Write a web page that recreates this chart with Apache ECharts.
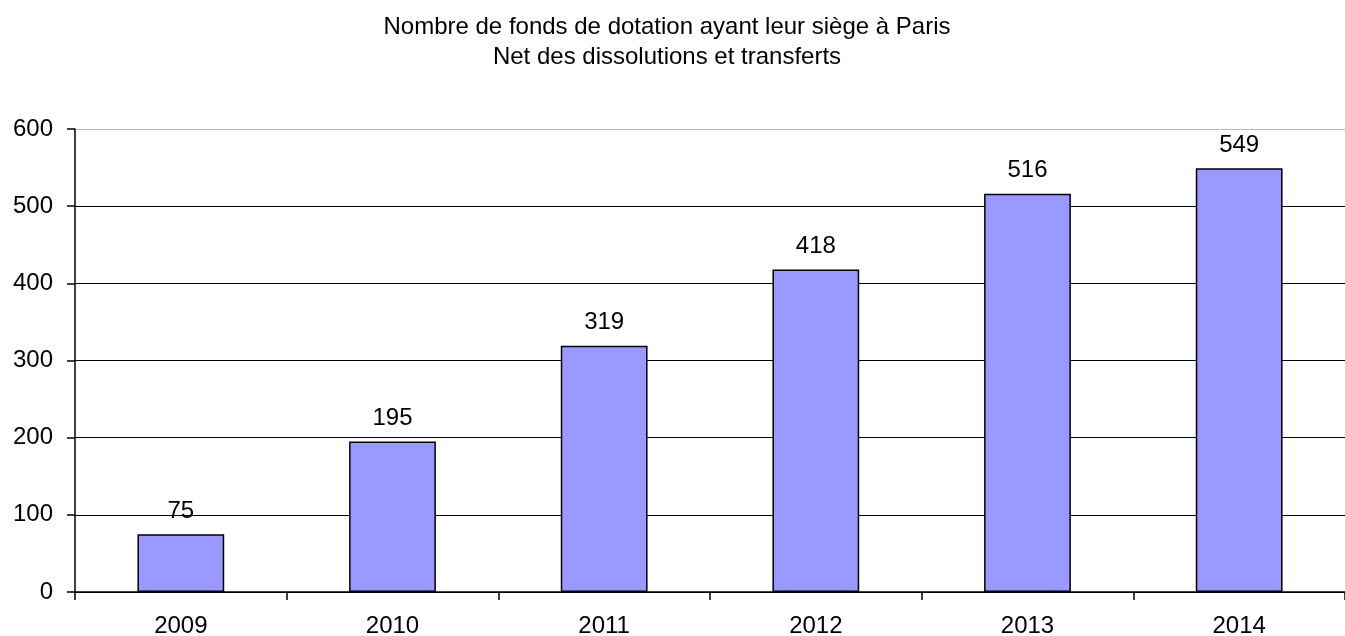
<!DOCTYPE html>
<html>
<head>
<meta charset="utf-8">
<script src="https://cdn.jsdelivr.net/npm/echarts@6/dist/echarts.min.js"></script>
<style>html,body{margin:0;padding:0;background:#fff}#c{width:1345px;height:636px}</style>
</head>
<body>
<div id="c"></div>
<script>
const categories = ['2009', '2010', '2011', '2012', '2013', '2014'];
const values = [75, 195, 319, 418, 516, 549];
const titleText = 'Nombre de fonds de dotation ayant leur siège à Paris\nNet des dissolutions et transferts';

const chart = echarts.init(document.getElementById('c'));
const font = '"Liberation Sans", Arial, sans-serif';
chart.setOption({
  animation: false,
  title: {
    text: titleText,
    left: 662, textAlign: 'center', top: 7,
    textStyle: { fontFamily: font, fontSize: 24, fontWeight: 'normal', color: '#000', lineHeight: 30 }
  },
  grid: { left: 75, right: 0, top: 129, bottom: 44, containLabel: false, outerBoundsMode: 'none' },
  xAxis: {
    type: 'category', data: categories,
    axisLine: { lineStyle: { color: '#000', width: 1.5 } },
    axisTick: { show: true, length: 8, lineStyle: { color: '#000', width: 1.5 } },
    axisLabel: { fontFamily: font, fontSize: 24, color: '#000', margin: 22 }
  },
  yAxis: {
    type: 'value', min: 0, max: 600, interval: 100,
    axisLine: { show: true, lineStyle: { color: '#000', width: 1.5 } },
    axisTick: { show: true, length: 8, lineStyle: { color: '#000', width: 1.5 } },
    axisLabel: { fontFamily: font, fontSize: 24, color: '#000', margin: 22 },
    splitLine: { show: true, lineStyle: { color: ['#000', '#000', '#000', '#000', '#000', '#000', '#bbb'], width: 1.2 } }
  },
  series: [{
    type: 'bar', data: values, barWidth: '41%',
    itemStyle: { color: '#9999FF', borderColor: '#000', borderWidth: 1.5 },
    label: { show: true, position: 'top', distance: 11, fontFamily: font, fontSize: 24, color: '#000' }
  }]
});
</script>
</body>
</html>
